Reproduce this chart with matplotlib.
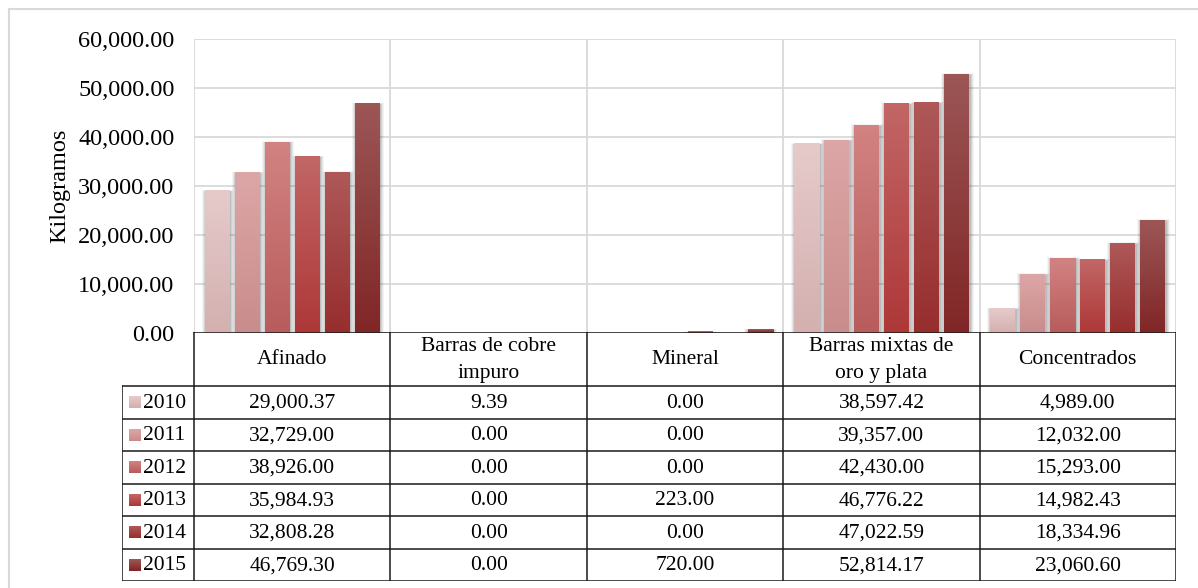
import numpy as np
import matplotlib.pyplot as plt
from matplotlib.patches import Rectangle
from matplotlib.colors import LinearSegmentedColormap

plt.rcParams['font.family'] = ['Liberation Serif', 'DejaVu Serif']

categories = ['Afinado', 'Barras de cobre\nimpuro', 'Mineral',
              'Barras mixtas de\noro y plata', 'Concentrados']
years = ['2010', '2011', '2012', '2013', '2014', '2015']
v2010 = [29000.37, 9.39, 0.00, 38597.42, 4989.00]
v2011 = [32729.00, 0.00, 0.00, 39357.00, 12032.00]
v2012 = [38926.00, 0.00, 0.00, 42430.00, 15293.00]
v2013 = [35984.93, 0.00, 223.00, 46776.22, 14982.43]
v2014 = [32808.28, 0.00, 0.00, 47022.59, 18334.96]
v2015 = [46769.30, 0.00, 720.00, 52814.17, 23060.60]
series = [v2010, v2011, v2012, v2013, v2014, v2015]

# (top colour, bottom colour) per year
grad = [('#e6caca', '#d4b0b0'),
        ('#dda6a6', '#c98c8c'),
        ('#d28282', '#b85c5c'),
        ('#c26666', '#ae3838'),
        ('#ae5858', '#972e2e'),
        ('#9c5656', '#812626')]

W, H = 1198, 588
fig = plt.figure(figsize=(W / 100, H / 100), dpi=100)

# outer frame (only top / left visible in the crop)
fig.add_artist(plt.Line2D([9 / W, 9 / W], [0, 1 - 9 / H], transform=fig.transFigure,
                          color='#d9d9d9', lw=1.5))
fig.add_artist(plt.Line2D([9 / W, 1], [1 - 9 / H, 1 - 9 / H], transform=fig.transFigure,
                          color='#d9d9d9', lw=1.5))

x0, x1 = 194, 1176
ytop, ybot = 39, 333
ax = fig.add_axes([x0 / W, 1 - ybot / H, (x1 - x0) / W, (ybot - ytop) / H])
n = len(categories)
ax.set_xlim(-0.5, n - 0.5)
ax.set_ylim(0, 60000)
ax.set_yticks(np.arange(0, 60001, 10000))
ax.set_yticklabels([f'{t:,.2f}' for t in np.arange(0, 60001, 10000)], fontsize=17.5)
ax.tick_params(axis='y', length=0, pad=14)
ax.set_xticks([])
ax.set_ylabel('Kilogramos', fontsize=17.5, labelpad=6)
for s in ax.spines.values():
    s.set_visible(False)
ax.yaxis.grid(True, color='#d9d9d9', lw=1.3)
ax.set_axisbelow(True)
for b in np.arange(-0.5, n, 1.0):
    ax.axvline(b, color='#d9d9d9', lw=1.3, zorder=0)

step = 30 / 196.4
width = 25 / 196.4
x = np.arange(n)
for i, vals in enumerate(series):
    pos = x + (i - 2.5) * step
    bars = ax.bar(pos, vals, width, color=grad[i][1], zorder=3)
    cmap = LinearSegmentedColormap.from_list('g%d' % i, [grad[i][1], grad[i][0]])
    for b in bars:
        h = b.get_height()
        if h < 100:
            continue
        bx, bw = b.get_x(), b.get_width()
        # soft shadow
        for k, a in [(4, 0.06), (3, 0.09), (2, 0.12), (1, 0.16)]:
            ax.add_patch(Rectangle((bx - k * 0.005 + 0.004, 0), bw + 2 * k * 0.005,
                                   h + k * 90 - 200, color='#505050', alpha=a,
                                   lw=0, zorder=2))
        ax.imshow(np.linspace(0, 1, 64).reshape(-1, 1), cmap=cmap, origin='lower',
                  extent=[bx, bx + bw, 0, h], aspect='auto', zorder=4)
ax.set_xlim(-0.5, n - 0.5)
ax.set_ylim(0, 60000)

# data table below
tl, tt, tb = 122, 332, 581
tax = fig.add_axes([tl / W, 1 - tb / H, (x1 - tl) / W, (tb - tt) / H])
tax.set_xlim(tl, x1)
tax.set_ylim(tb, tt)
tax.axis('off')
hdr = 386
rowh = (tb - hdr) / len(years)
colw = (x1 - x0) / n
lc = '#1a1a1a'
lw = 1.1
fs = 15.5
# horizontal lines
tax.plot([x0, x1], [tt, tt], color=lc, lw=lw)
for r in range(len(years) + 1):
    yy = hdr + r * rowh
    tax.plot([tl, x1], [yy, yy], color=lc, lw=lw)
# vertical lines
tax.plot([tl, tl], [hdr, tb], color=lc, lw=lw)
for c in range(n + 1):
    xx = x0 + c * colw
    tax.plot([xx, xx], [tt, tb], color=lc, lw=lw)

for c, cat in enumerate(categories):
    tax.text(x0 + (c + 0.5) * colw, (tt + hdr) / 2 + 1, cat, ha='center', va='center',
             fontsize=fs, linespacing=1.6)
for r, yr in enumerate(years):
    yc = hdr + (r + 0.5) * rowh
    cmap = LinearSegmentedColormap.from_list('k%d' % r, [grad[r][0], grad[r][1]])
    tax.imshow(np.linspace(0, 1, 16).reshape(-1, 1), cmap=cmap, origin='upper',
               extent=[129, 141, yc + 6, yc - 6], aspect='auto', zorder=3)
    tax.text(143, yc + 1, yr, ha='left', va='center', fontsize=fs)
    for c in range(n):
        tax.text(x0 + (c + 0.5) * colw, yc + 1, f'{series[r][c]:,.2f}',
                 ha='center', va='center', fontsize=fs)
tax.set_xlim(tl, x1)
tax.set_ylim(tb, tt)

fig.savefig('out.png', dpi=100)
